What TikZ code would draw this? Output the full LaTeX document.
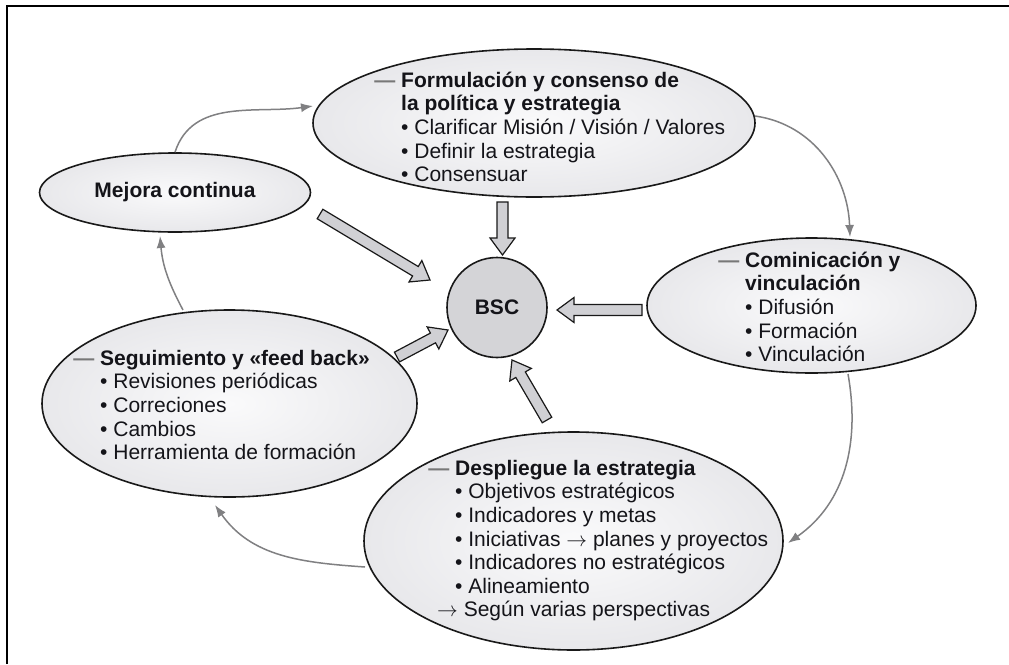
\documentclass[tikz,border=0pt]{standalone}
\usepackage{fontspec}
\setmainfont{Liberation Sans}
\usetikzlibrary{shapes.geometric,arrows.meta,calc}
\definecolor{ellin}{RGB}{250,250,251}
\definecolor{ellout}{RGB}{232,232,235}
\definecolor{bscfill}{RGB}{212,212,215}
\definecolor{arrfill}{RGB}{208,208,212}
\definecolor{flowgray}{RGB}{128,128,130}
\definecolor{dashgray}{RGB}{120,120,120}
\definecolor{textcol}{RGB}{20,20,25}
\newcommand\dashmark{{\color{dashgray}\textbf{—}}\ }
\newcommand\blockarrow[2]{%
  \coordinate (ba-h) at ($(#2)!17pt!(#1)$);
  \draw[blockarr] ($(#1)!5.5pt!90:(#2)$) -- ($(ba-h)!5.5pt!90:(#2)$) -- ($(ba-h)!12.5pt!90:(#2)$) -- (#2)
    -- ($(ba-h)!12.5pt!-90:(#2)$) -- ($(ba-h)!5.5pt!-90:(#2)$) -- ($(#1)!5.5pt!-90:(#2)$) -- cycle;}
\begin{document}
\begin{tikzpicture}[x=1pt,y=1pt,
  ell/.style={ellipse, draw=black!90, line width=1.6pt, inner sep=0pt,
    shading=radial, inner color=ellin, outer color=ellout},
  txt/.style={anchor=north west, inner sep=0pt, align=left, text=textcol,
    font=\fontsize{21}{23.6}\selectfont},
  flow/.style={draw=flowgray, line width=1.5pt, -{Latex[length=12pt,width=9pt]}},
  blockarr/.style={draw=black!90, line width=1.2pt, fill=arrfill, line join=miter},
]
\useasboundingbox (0,0) rectangle (1009,-664);
\fill[white] (0,0) rectangle (1009,-664);
\draw[line width=2pt] (7,-664) -- (7,-6) -- (1009,-6);

% ellipses
\node[ell, minimum width=442pt, minimum height=148pt] (top) at (534,-123) {};
\node[ell, minimum width=271pt, minimum height=79pt, text=textcol,
  font=\fontsize{21}{23.6}\selectfont\bfseries] (mej) at (175,-192.5) {Mejora continua};
\node[ell, minimum width=329pt, minimum height=135pt] (com) at (811.5,-305.5) {};
\node[ell, minimum width=375pt, minimum height=187pt] (seg) at (229.5,-403.5) {};
\node[ell, minimum width=419pt, minimum height=218pt] (des) at (573.5,-541) {};
\node[circle, draw=black!90, line width=1.6pt, fill=bscfill, minimum size=100pt, inner sep=0pt,
  text=textcol, font=\fontsize{21}{23.6}\selectfont\bfseries] (bsc) at (497,-307.5) {BSC};

% texts
\node[txt] (ttop) at (401,-65) {\rule{0pt}{22pt}\llap{\dashmark}\textbf{Formulación y consenso de}\\
  \textbf{la política y estrategia}\\
  • Clarificar Misión / Visión / Valores\\
  • Definir la estrategia\\
  • Consensuar};
\node[txt] (tcom) at (745,-245) {\rule{0pt}{22pt}\llap{\dashmark}\textbf{Cominicación y}\\
  \textbf{vinculación}\\
  • Difusión\\
  • Formación\\
  • Vinculación};
\node[txt] (tseg) at (100,-343) {\rule{0pt}{22pt}\llap{\dashmark}\textbf{Seguimiento y «feed back»}\\
  • Revisiones periódicas\\
  • Correciones\\
  • Cambios\\
  • Herramienta de formación};
\node[txt] (tdes) at (455,-453) {\rule{0pt}{22pt}\llap{\dashmark}\textbf{Despliegue la estrategia}\\
  • Objetivos estratégicos\\
  • Indicadores y metas\\
  • Iniciativas $\rightarrow$ planes y proyectos\\
  • Indicadores no estratégicos\\
  • Alineamiento\\
  \hspace*{-18pt}$\rightarrow$ Según varias perspectivas};

% block arrows
\coordinate (a1t) at (502.5,-202); \coordinate (a1h) at (502.5,-255);
\coordinate (a2t) at (320,-214);   \coordinate (a2h) at (430,-280);
\coordinate (a3t) at (642,-310);   \coordinate (a3h) at (557,-310);
\coordinate (a4t) at (397,-357);   \coordinate (a4h) at (448,-330);
\coordinate (a5t) at (547,-420);   \coordinate (a5h) at (512,-360);
\blockarrow{a1t}{a1h}
\blockarrow{a2t}{a2h}
\blockarrow{a3t}{a3h}
\blockarrow{a4t}{a4h}
\blockarrow{a5t}{a5h}

% flow arrows
\coordinate (c1e) at (313,-106);
\coordinate (c2s) at (755,-116); \coordinate (c2e) at (850,-237);
\coordinate (c3s) at (848,-374); \coordinate (c3e) at (788,-543);
\coordinate (c4s) at (365,-567); \coordinate (c4e) at (215,-505);
\coordinate (c5s) at (183,-310); \coordinate (c5e) at (160,-236);
\draw[flow] (mej.north) to[out=72, in=188] (c1e);
\draw[flow] (c2s) to[out=-8, in=92] (c2e);
\draw[flow] (c3s) to[out=-80, in=35] (c3e);
\draw[flow] (c4s) to[out=176, in=-55] (c4e);
\draw[flow] (c5s) to[out=118, in=-85] (c5e);
\end{tikzpicture}
\end{document}
